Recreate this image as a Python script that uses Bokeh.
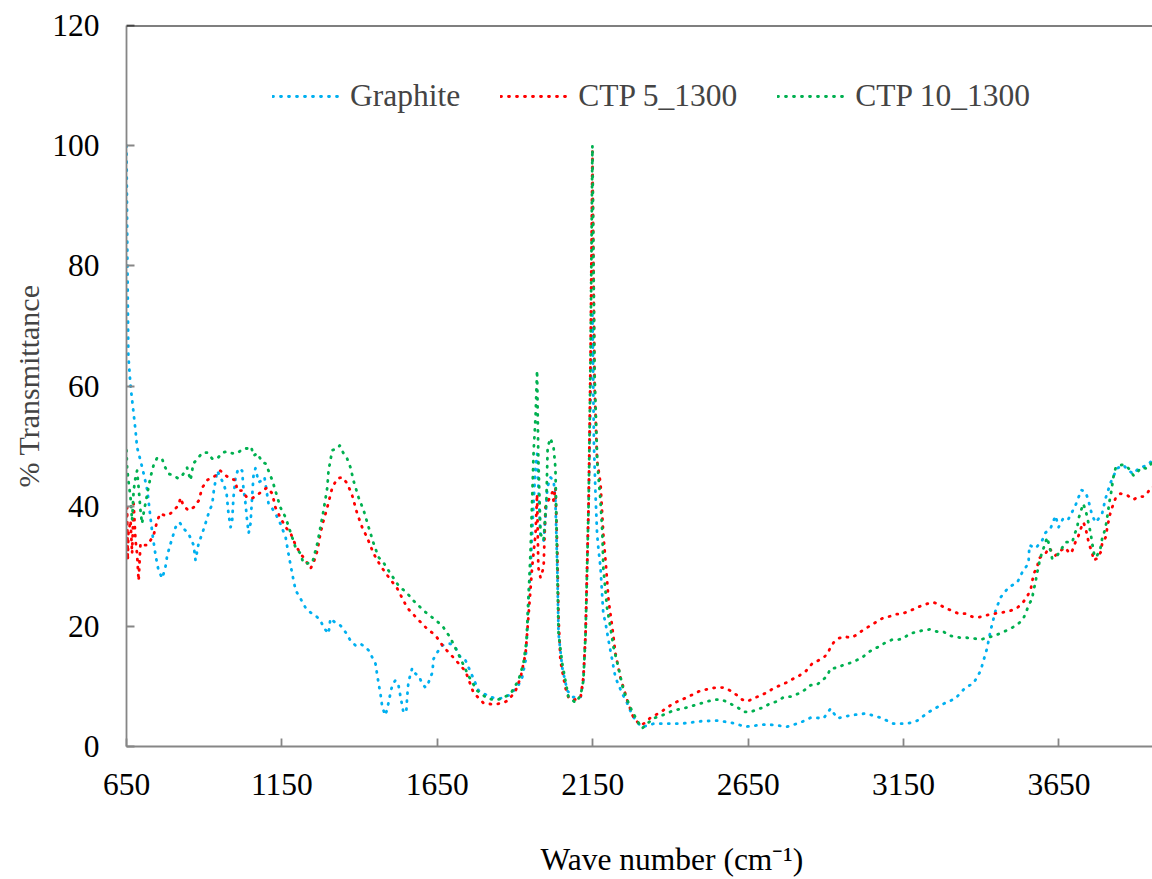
from bokeh.plotting import figure
from bokeh.models import Range1d, Span, Title, FixedTicker, LinearAxis
from bokeh.embed import file_html
from bokeh.resources import INLINE

# ---------------- data ----------------
x_ticks = [650, 1150, 1650, 2150, 2650, 3150, 3650]
y_ticks = [0, 20, 40, 60, 80, 100, 120]
series_names = ["Graphite", "CTP 5_1300", "CTP 10_1300"]
x_title = "Wave number (cm\u207b\u00b9)"
y_title = "% Transmittance"

graphite_wn = [650, 653, 656, 663, 668, 679, 684, 695, 708, 717, 733, 743, 753, 765, 775, 781, 792, 808, 821, 833,
               849, 866, 872, 882, 894, 904, 914, 926, 931, 942, 952, 962, 972, 978, 985, 990, 994, 1001, 1010, 1022,
               1026, 1033, 1038, 1043, 1049, 1054, 1059, 1065, 1075, 1087, 1094, 1107, 1119, 1129, 1145, 1162, 1171,
               1183, 1194, 1210, 1226, 1242, 1258, 1274, 1284, 1300, 1306, 1322, 1339, 1355, 1371, 1387, 1403, 1419,
               1429, 1441, 1451, 1457, 1461, 1467, 1473, 1483, 1489, 1499, 1505, 1515, 1525, 1532, 1537, 1541, 1550,
               1553, 1557, 1569, 1580, 1590, 1601, 1612, 1622, 1634, 1638, 1654, 1666, 1676, 1692, 1709, 1725, 1741,
               1762, 1783, 1821, 1853, 1879, 1907, 1923, 1934, 1939, 1943, 1950, 1955, 1960, 1966, 1971, 1982, 1992,
               1998, 2004, 2014, 2024, 2030, 2036, 2040, 2052, 2068, 2088, 2111, 2120, 2127, 2132, 2137, 2143, 2149,
               2154, 2159, 2164, 2168, 2175, 2180, 2184, 2191, 2201, 2213, 2223, 2245, 2261, 2277, 2293, 2309, 2325,
               2346, 2378, 2433, 2497, 2551, 2593, 2642, 2711, 2776, 2819, 2851, 2893, 2915, 2937, 2980, 3028, 3076,
               3118, 3162, 3194, 3230, 3274, 3317, 3349, 3375, 3398, 3419, 3430, 3446, 3462, 3488, 3516, 3532, 3552,
               3555, 3575, 3596, 3607, 3623, 3639, 3649, 3665, 3681, 3703, 3722, 3736, 3745, 3757, 3768, 3777, 3789,
               3800, 3816, 3837, 3858, 3874, 3890, 3906, 3934, 3950, 3980]
graphite_t = [100, 80, 65, 60, 57.7, 52.6, 49.8, 47.6, 44.8, 42.6, 35.5, 32, 29.3, 28, 29.8, 31.8, 33.8, 36.5, 37.3, 36.3,
              35.5, 33.5, 31, 33.8, 35.5, 37.1, 38.8, 40.4, 42.6, 45.9, 44.8, 43.8, 42.1, 38.8, 36.5, 37.6, 41.4, 44.8, 46.3, 45.9,
              43.1, 40.4, 37.6, 35.5, 37.1, 41.4, 45.4, 46.3, 44, 44.3, 44.8, 40.4, 39.6, 38.8, 37.1, 34.8, 32.1,
              28.8, 26, 24.6, 23.1, 22.3, 21.8, 21, 19.8, 18.8, 21.3, 20.6, 20.1, 19, 17.6, 16.8, 17.1, 16.5,
              16, 14.8, 13.8, 11.8, 10.5, 8.8, 6.5, 5.2, 6.3, 8.8, 10.2, 11, 10.2, 8.2, 6.8, 5.7, 5.7,
              8.2, 10.7, 13, 12.1, 11.8, 10.5, 9.8, 10.7, 12.3, 14.6, 16, 16.8, 17.1, 17.1, 16.4, 14.8, 14.3,
              11.8, 9.3, 8.2, 8, 8.5, 9.8, 11.5, 14.3, 18.8, 24.3, 29.8, 35.4, 40.9, 46.4, 48.7, 34.8, 34.3,
              38.1, 43.1, 44.8, 44.3, 40.9, 29.8, 18.8, 13.1, 9.3, 8.2, 8.2, 11, 18.8, 29.8, 41, 58, 72,
              50, 42, 35.4, 33.1, 29.8, 25.5, 22.1, 20.6, 17.6, 14.3, 11.5, 8.8, 7.2, 5.2, 4, 3.2, 3.5,
              3.8, 3.8, 3.8, 4.2, 4.3, 4, 3.3, 3.7, 3.3, 4, 4.8, 4.7, 6.3, 4.7, 5.2, 5.5, 4.8,
              3.8, 3.8, 4.3, 5.7, 7, 8, 9.8, 10.5, 12.6, 16.4, 19.3, 22.6, 24.8, 26.5, 27.3, 29, 30.5,
              33.5, 33, 34.3, 35.6, 36.3, 38.4, 36.5, 38.1, 37.9, 40.1, 42.7, 42.3, 40.9, 38.4, 37.3, 37.9, 38.8,
              41.3, 43.9, 46.3, 46.8, 45.9, 45.4, 46.3, 46.8, 47.6, 48]

ctp5_wn = [650, 652, 654, 656, 663, 668, 673, 679, 684, 689, 695, 705, 717, 727, 737, 749, 759, 775, 792, 801,
           817, 824, 833, 849, 866, 882, 894, 911, 930, 952, 969, 985, 1001, 1006, 1022, 1038, 1054, 1071, 1087, 1103,
           1119, 1129, 1145, 1162, 1178, 1194, 1210, 1226, 1242, 1252, 1264, 1274, 1284, 1296, 1312, 1328, 1344, 1360,
           1376, 1392, 1408, 1424, 1445, 1467, 1489, 1521, 1553, 1585, 1617, 1644, 1671, 1702, 1741, 1766, 1799,
           1831, 1859, 1879, 1902, 1918, 1934, 1943, 1955, 1966, 1971, 1975, 1982, 1992, 1998, 2007, 2020, 2024, 2030,
           2036, 2040, 2046, 2062, 2072, 2088, 2111, 2120, 2127, 2132, 2137, 2143, 2149, 2156, 2164, 2175, 2184, 2193,
           2201, 2213, 2223, 2239, 2261, 2281, 2304, 2320, 2336, 2368, 2410, 2454, 2497, 2545, 2571, 2593, 2615, 2631,
           2647, 2667, 2690, 2711, 2732, 2754, 2776, 2796, 2812, 2835, 2856, 2872, 2893, 2906, 2915, 2925, 2941, 2960,
           2980, 2996, 3012, 3033, 3049, 3065, 3081, 3102, 3124, 3146, 3166, 3189, 3210, 3230, 3246, 3266, 3285, 3307,
           3327, 3349, 3371, 3391, 3414, 3440, 3468, 3494, 3516, 3532, 3548, 3559, 3569, 3580, 3585, 3607, 3617, 3639,
           3655, 3671, 3684, 3693, 3703, 3713, 3722, 3729, 3736, 3742, 3748, 3757, 3761, 3773, 3784, 3789, 3800, 3805,
           3810, 3816, 3822, 3832, 3848, 3870, 3890, 3906, 3922, 3934, 3945, 3980]
ctp5_t = [33, 39.8, 31, 35.4, 37.6, 32.1, 40.4, 34.3, 32.1, 27.6, 33.8, 33.5, 33.5, 34.3, 35.1, 37.6, 38.8, 38.4, 38.8, 39.3,
          40.1, 41.4, 40.1, 39.3, 39.8, 40.9, 43.1, 44.4, 44.8, 45.9, 45.1, 44.6, 44.3, 42.6, 42.6, 41.4, 41.3, 41.8, 42.6, 43.1,
          42.1, 39.8, 38.1, 36.5, 35.5, 33.5, 32.1, 31, 29.6, 30.6, 32.6, 35.5, 37.6, 39.8, 43.1, 44.6, 44.8, 43.8,
          41.8, 38.8, 36.5, 34.8, 32.1, 30.1, 28.5, 26.3, 23.1, 21.3, 19.6, 18.5, 16.5, 14.8, 12.5, 9, 7.2,
          7, 7.2, 7.7, 9.3, 11.5, 15.5, 21.5, 29.8, 35.4, 42, 29.8, 28.1, 29.8, 39.8, 40.9, 42.3, 40.9, 43.1,
          32.6, 21.5, 14.3, 9.8, 8.2, 7.7, 8.2, 11.5, 18.8, 29.8, 41, 65, 99, 60, 47.6, 43.8, 35.4, 29.8,
          24.3, 19.8, 15.5, 11.5, 7.7, 4.8, 3.5, 4, 4.8, 5.7, 7.2, 8.2, 9.3, 9.8, 9.8, 9.3, 8.5, 7.8,
          7.5, 8, 8.5, 9, 9.7, 10.2, 10.7, 11.3, 11.7, 12.5, 13.8, 14.2, 14.8, 15.5, 16.5, 17.3, 18, 18.3,
          18.1, 18.5, 19.1, 19.8, 20.3, 20.8, 21.3, 21.6, 22, 22.1, 22.5, 23, 23.5, 23.8, 24, 23.6, 23, 22.6,
          22.1, 22.1, 21.6, 21.5, 21.8, 22.1, 22.3, 22.6, 23.1, 23.8, 25, 26.1, 28.8, 29.8, 31.3, 32.1, 33.1, 31.8,
          32.6, 33.1, 32.1, 32.6, 34, 35.1, 36.5, 37.3, 36.3, 34.8, 33.5, 32.3, 31, 31.3, 32.3, 33.8, 34.8, 36.3,
          37.6, 39, 39.9, 41.3, 42.1, 41.8, 41.1, 41.6, 41.6, 42.1, 43.1, 43.5]

ctp10_wn = [650, 652, 656, 663, 668, 673, 679, 684, 689, 695, 700, 705, 717, 727, 737, 749, 765, 775, 785, 801,
            817, 829, 840, 845, 856, 865, 877, 894, 910, 926, 942, 958, 974, 990, 1006, 1026, 1043, 1051, 1059, 1071,
            1087, 1097, 1107, 1119, 1129, 1145, 1162, 1178, 1194, 1210, 1219, 1231, 1248, 1264, 1274, 1284, 1296, 1300,
            1312, 1328, 1336, 1347, 1360, 1371, 1380, 1397, 1413, 1429, 1445, 1461, 1477, 1499, 1525, 1553, 1573, 1606,
            1638, 1666, 1692, 1725, 1750, 1778, 1811, 1837, 1859, 1886, 1911, 1927, 1937, 1943, 1950, 1955, 1960, 1966,
            1971, 1975, 1982, 1992, 2001, 2005, 2014, 2024, 2030, 2036, 2040, 2052, 2072, 2095, 2111, 2120, 2127, 2132,
            2137, 2143, 2149, 2156, 2165, 2175, 2181, 2184, 2196, 2207, 2217, 2233, 2249, 2271, 2293, 2309, 2325, 2346,
            2374, 2410, 2454, 2519, 2545, 2566, 2586, 2609, 2625, 2634, 2657, 2679, 2699, 2722, 2743, 2764, 2786, 2812,
            2835, 2851, 2872, 2888, 2904, 2915, 2937, 2953, 2973, 2996, 3017, 3033, 3049, 3070, 3092, 3114, 3134, 3150,
            3170, 3189, 3210, 3237, 3259, 3279, 3295, 3311, 3333, 3355, 3375, 3398, 3419, 3446, 3468, 3494, 3516, 3532,
            3543, 3552, 3564, 3568, 3575, 3578, 3585, 3588, 3596, 3612, 3623, 3628, 3642, 3655, 3671, 3693, 3700, 3709,
            3713, 3720, 3728, 3736, 3742, 3752, 3757, 3765, 3773, 3784, 3789, 3797, 3803, 3807, 3813, 3818, 3825, 3832,
            3842, 3858, 3874, 3890, 3902, 3913, 3929, 3938, 3950, 3980]
ctp10_t = [49.3, 46.4, 44.3, 41.4, 37.6, 42.6, 44.8, 45.9, 43.1, 39.3, 37.1, 38.8, 42.1, 44.8, 46.8, 48.1, 47.8, 46.4, 45.4, 45.1,
           44.6, 45.1, 45.9, 46.4, 44.3, 47.1, 47.8, 48.9, 48.9, 47.9, 47.9, 48.9, 49.1, 48.8, 48.8, 49.6, 49.6, 49.9, 48.4, 48.8,
           47.3, 47.1, 45.9, 44.3, 42.6, 39.8, 38.1, 35.6, 33.1, 32.1, 30.5, 30.5, 30.6, 33.8, 36.5, 39.3, 43.1, 45.9,
           49.3, 49.6, 50.1, 48.9, 47.9, 46.4, 44.3, 41.4, 39.3, 36.5, 33.8, 31.5, 30.6, 28.8, 26.8, 25.5, 24.3, 22.6,
           21.3, 20.1, 18.1, 14.6, 11.8, 9.3, 8, 7.7, 8, 8.8, 11, 13.8, 17.6, 24.3, 32.6, 40.9, 49.3, 54.8,
           62.6, 48, 35.4, 34.3, 40.9, 49.8, 51.3, 49.8, 46.4, 29.8, 18.8, 13.8, 8.2, 7.3, 8.5, 11, 18.8, 29.8,
           41, 65, 100, 62, 47, 40.9, 35.4, 29.8, 23.1, 19.8, 16.5, 13.1, 9.3, 6.5, 4.3, 3, 3.8, 4.7,
           5.2, 6, 6.5, 7.5, 7.8, 7.8, 7.3, 6.7, 6.2, 5.8, 5.7, 6.2, 6.5, 7.2, 7.5, 8.2, 8.3, 8.8,
           9.5, 10.2, 10.3, 11, 11.7, 13, 13.1, 13.5, 13.8, 14.3, 14.8, 15.5, 16.1, 16.6, 17.3, 17.8, 17.8, 18,
           18.8, 19, 19.3, 19.5, 19.1, 19.1, 18.5, 18.3, 18.1, 18.1, 18, 17.8, 18.1, 18.5, 19, 19.6, 20.3, 21,
           22.1, 23.5, 24.6, 26, 27.3, 28.6, 30, 31.1, 32.3, 34.8, 32.6, 31.3, 31.6, 32.6, 34, 34, 35.3, 36.5,
           37.9, 39.1, 40.4, 39.3, 37.9, 35.5, 33.8, 31.5, 31.8, 33.1, 34.6, 35.9, 37.3, 38.8, 40.9, 42.3, 44.8, 46.3,
           46.8, 46.9, 46.3, 45.1, 45.6, 46.4, 46.3, 46.4, 47.3, 48]

colors = ["#00B0F0", "#FF0000", "#00B050"]

# ---------------- figure ----------------
FONT = "Liberation Serif"
FS = "31.5px"
p = figure(width=1152, height=879, output_backend="svg", toolbar_location=None,
           x_range=Range1d(650, 3951), y_range=Range1d(0, 120))
p.min_border_left = 126
p.min_border_right = 0
p.min_border_top = 25
p.min_border_bottom = 133
p.outline_line_color = None
p.background_fill_color = "white"
p.border_fill_color = "white"
p.xgrid.visible = False
p.ygrid.visible = False

for xs, ys, name, c in zip([graphite_wn, ctp5_wn, ctp10_wn], [graphite_t, ctp5_t, ctp10_t], series_names, colors):
    p.line(xs, ys, line_color=c, line_width=2.8, line_dash="1 7", line_cap="round",
           line_join="round", legend_label=name)

for ax in (p.xaxis[0], p.yaxis[0]):
    ax.axis_line_color = "#868686"
    ax.axis_line_width = 1.8
    ax.major_tick_line_color = "#868686"
    ax.major_tick_line_width = 1.8
    ax.major_tick_in = 8
    ax.major_tick_out = 0
    ax.minor_tick_line_color = None
    ax.major_label_text_font = FONT
    ax.major_label_text_font_size = FS
    ax.major_label_text_color = "black"

p.xaxis.ticker = FixedTicker(ticks=x_ticks)
p.yaxis.ticker = FixedTicker(ticks=y_ticks)
p.xaxis.major_label_standoff = 27
p.yaxis.major_label_standoff = 27
p.yaxis.axis_label = y_title
p.yaxis.axis_label_text_font = FONT
p.yaxis.axis_label_text_font_size = "30px"
p.yaxis.axis_label_text_font_style = "normal"
p.yaxis.axis_label_standoff = 4

# invisible spacer panel below the tick labels (one hidden tick, empty label, no line)
spacer = LinearAxis(ticker=FixedTicker(ticks=[2000]), major_tick_out=42, major_tick_in=0,
                    axis_line_color=None, major_tick_line_color=None, minor_tick_line_color=None,
                    minor_tick_out=0, minor_tick_in=0, major_label_standoff=0,
                    major_label_overrides={2000: ""},
                    major_label_text_font_size="0px", major_label_text_alpha=0)
p.add_layout(spacer, "below")

# top border line
p.add_layout(Span(location=120, dimension="width", line_color="black", line_width=2))

# x-axis title (placed like the original, off the frame centre)
p.add_layout(Title(text=x_title, align="left", offset=414, text_font=FONT, text_font_size=FS,
                   text_font_style="normal", text_color="black", standoff=0), "below")

lg = p.legend[0]
lg.orientation = "horizontal"
lg.location = (146, 632)
lg.label_text_font = FONT
lg.label_text_font_size = FS
lg.glyph_width = 71
lg.glyph_height = 30
lg.label_standoff = 7
lg.spacing = 40
lg.padding = 0
lg.margin = 0
lg.border_line_color = None
lg.background_fill_alpha = 0

open("out.html", "w").write(file_html(p, INLINE))
